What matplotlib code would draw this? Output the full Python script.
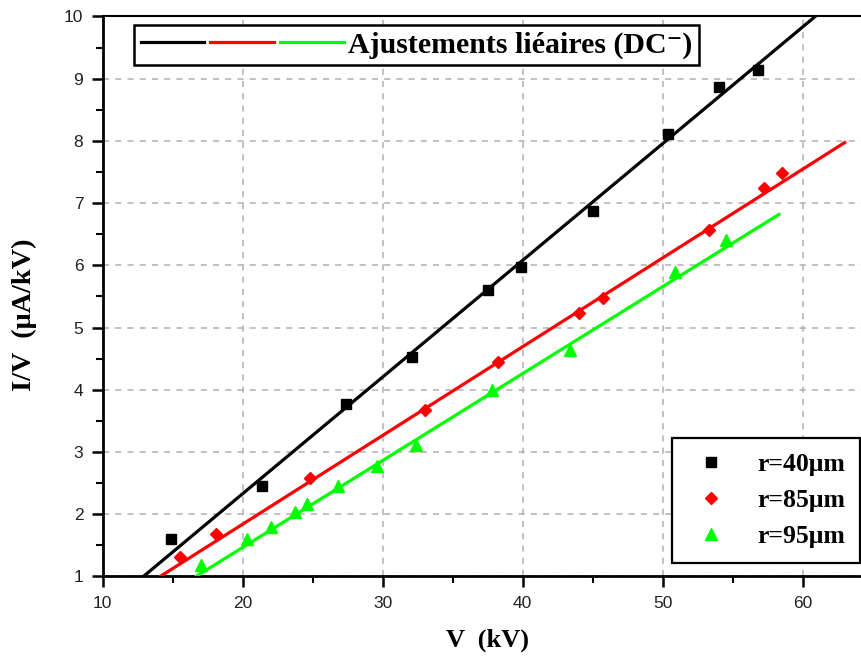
import numpy as np
import matplotlib
matplotlib.use("Agg")
import matplotlib.pyplot as plt
from matplotlib.legend_handler import HandlerTuple
from matplotlib.ticker import MultipleLocator

# r = 40 um
v40 = [14.9, 21.4, 27.4, 32.1, 37.5, 39.9, 45.0, 50.4, 54.0, 56.8]
iv40 = [1.60, 2.46, 3.77, 4.52, 5.61, 5.97, 6.88, 8.11, 8.86, 9.14]
# r = 85 um
v85 = [15.5, 18.1, 24.8, 33.0, 38.2, 44.0, 45.7, 53.3, 57.2, 58.5]
iv85 = [1.32, 1.68, 2.58, 3.67, 4.44, 5.24, 5.47, 6.57, 7.24, 7.49]
# r = 95 um
v95 = [17.0, 20.3, 22.0, 23.7, 24.6, 26.8, 29.6, 32.4, 37.8, 43.4, 50.9, 54.5]
iv95 = [1.18, 1.60, 1.80, 2.04, 2.16, 2.45, 2.77, 3.11, 4.00, 4.64, 5.90, 6.40]

# linear fits as drawn: (slope, intercept) and the V span of each line
fit40 = (0.1875, -1.419)
span40 = (12.5, 61.5)
fit85 = (0.1426, -1.011)
span85 = (13.8, 63.0)
fit95 = (0.1397, -1.327)
span95 = (16.4, 58.3)

serif = ['Liberation Serif', 'DejaVu Serif']
sans = 'Liberation Sans'

fig = plt.figure(figsize=(8.61, 6.66), dpi=100)
ax = fig.add_axes([0.1193, 0.1344, 0.8943, 0.8410])

# fit lines
fits = []
for fit, span, col in [(fit40, span40, 'black'), (fit85, span85, '#ff0000'),
                       (fit95, span95, '#00ff00')]:
    xx = np.linspace(span[0], span[1], 50)
    ln, = ax.plot(xx, fit[0] * xx + fit[1], color=col, lw=2.3, zorder=3)
    fits.append(ln)

# measured points
p1, = ax.plot(v40, iv40, 's', color='black', ms=7.5, ls='none', zorder=4)
p2, = ax.plot(v85, iv85, 'D', color='#ff0000', ms=6.5, ls='none', zorder=4)
p3, = ax.plot(v95, iv95, '^', color='#00ff00', ms=9, ls='none', zorder=4)

ax.set_xlim(10, 65)
ax.set_ylim(1, 10)
ax.xaxis.set_major_locator(MultipleLocator(10))
ax.xaxis.set_minor_locator(MultipleLocator(5))
ax.yaxis.set_major_locator(MultipleLocator(1))
ax.yaxis.set_minor_locator(MultipleLocator(0.5))

ax.grid(True, which='major', color='#b0b0b0', ls=(0, (4, 4)), lw=1.1)
ax.set_axisbelow(True)

for s in ['left', 'bottom']:
    ax.spines[s].set_linewidth(2)
ax.spines['top'].set_linewidth(1.5)
ax.spines['right'].set_visible(False)

ax.tick_params(which='major', direction='out', length=8, width=1.8,
               labelsize=12.5, labelcolor='#222222', pad=6)
ax.tick_params(which='minor', direction='out', length=5, width=1.5)
ax.tick_params(top=False, right=False)
for lab in ax.get_xticklabels() + ax.get_yticklabels():
    lab.set_family(sans)

ax.set_xlabel('V  (kV)', family=serif, fontsize=19, fontweight='bold',
              labelpad=13)
ax.set_ylabel('I/V  (μA/kV)', family=serif, fontsize=20.3, fontweight='bold')
ax.yaxis.set_label_coords(-0.0853, 0.467)

# top legend: fit lines
leg1 = ax.legend([tuple(fits)], ['Ajustements liéaires (DC⁻)'],
                 handler_map={tuple: HandlerTuple(ndivide=None, pad=0.2)},
                 loc='upper left', bbox_to_anchor=(0.0406, 0.9846),
                 borderaxespad=0,
                 prop={'family': serif, 'weight': 'bold', 'size': 21.5},
                 handlelength=6.8, handletextpad=0.15, borderpad=0.22,
                 fancybox=False, framealpha=1, edgecolor='black')
leg1.get_frame().set_linewidth(1.8)
ax.add_artist(leg1)

# bottom right legend: markers
leg2 = ax.legend([p1, p2, p3], ['r=40μm', 'r=85μm', 'r=95μm'],
                 loc='lower right', bbox_to_anchor=(0.984, 0.024),
                 borderaxespad=0,
                 prop={'family': serif, 'weight': 'bold', 'size': 18.5},
                 handlelength=1.8, handletextpad=0.9, labelspacing=0.5,
                 borderpad=0.6, fancybox=False, framealpha=1,
                 edgecolor='black')
leg2.get_frame().set_linewidth(1.6)

fig.savefig('out.png', dpi=100)
